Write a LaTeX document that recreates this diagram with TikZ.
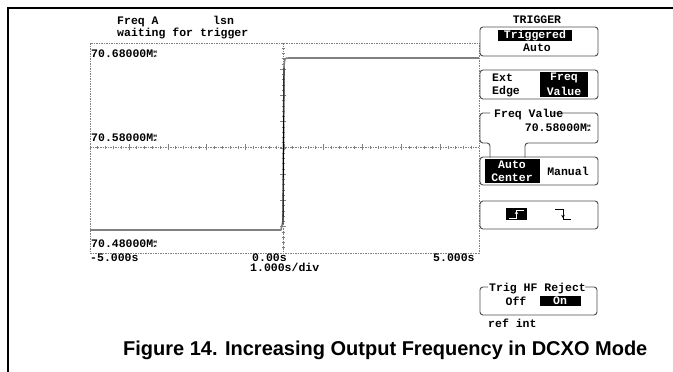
\documentclass[tikz,border=0pt]{standalone}
\usepackage{fontspec}
\setmainfont{Liberation Sans}
\newfontfamily\scrfont{Liberation Mono}
\usetikzlibrary{arrows.meta}
\definecolor{gridgray}{gray}{0.5}
\definecolor{tracegray}{gray}{0.5}
\definecolor{boxgray}{gray}{0.3}
\newcommand\mhzsym{M\raisebox{-0.1ex}{\scalebox{0.9}[0.55]{\fontsize{7}{7.5}\selectfont\shortstack{H\\z}}}}
\begin{document}
\begin{tikzpicture}[x=1pt,y=-1pt,
  scr/.style={font=\scrfont\bfseries\fontsize{11.5}{11.5}\selectfont, inner sep=0pt, anchor=base west},
  scrc/.style={font=\scrfont\bfseries\fontsize{11.5}{11.5}\selectfont, inner sep=0pt},
  inv/.style={fill=black,draw=none},
  panel/.style={draw=boxgray,line width=0.9pt,rounded corners=3pt},
  gridline/.style={draw=gridgray,line width=0.6pt,dash pattern=on 1.5pt off 1pt},
  tick/.style={draw=gridgray,line width=0.6pt}]
\useasboundingbox (0,0) rectangle (673,372);
% frame
\draw[line width=1.5pt] (673,8) -- (8,8) -- (8,372);

% header
\node[scr] (freqa) at (117,24) {Freq A};
\node[scr] (lsn) at (213,24) {lsn};
\node[scr] (wait) at (117,37) {waiting for trigger};

% plot area
\draw[gridline] (90,43) rectangle (479,253);
\draw[gridline] (283,43) -- (283,253);
\draw[gridline] (90,147) -- (479,147);
\foreach \i in {1,...,49} {\pgfmathsetmacro\xx{90+\i*7.78}
  \draw[tick] (\xx,145.5) -- (\xx,148.5);}
\foreach \i in {1,...,9} {\pgfmathsetmacro\xx{90+\i*38.9}
  \draw[tick] (\xx,144) -- (\xx,150);}
\foreach \i in {1,...,39} {\pgfmathsetmacro\yy{43+\i*5.25}
  \draw[tick] (281.5,\yy) -- (284.5,\yy);}
\foreach \i in {1,...,7} {\pgfmathsetmacro\yy{43+\i*26.25}
  \draw[tick] (280,\yy) -- (286,\yy);}

% trace
\draw[tracegray,line width=1.6pt,line join=round] (90,230) -- (281,230) -- (283,221) -- (284,68)
  .. controls (284.5,58) .. (289,58) -- (479,58);
\draw[black,line width=0.9pt] (283,224) -- (284,68);

% axis labels
\node[scr] (ytop) at (91,57) {70.68000\mhzsym};
\node[scr] (ymid) at (91,141) {70.58000\mhzsym};
\node[scr] (ybot) at (91,247) {70.48000\mhzsym};
\node[scr] (xl) at (90,261) {-5.000s};
\node[scr] (xc) at (252,261) {0.00s};
\node[scr] (xr) at (433,261) {5.000s};
\node[scr] (xdiv) at (250,271) {1.000s/div};

% right panel
\node[scrc] (trig) at (537,20) {TRIGGER};
\draw[panel] (480,27) rectangle (598,56);
\fill[inv] (498,30) rectangle (572,41);
\node[scrc,text=white] (trgd) at (535,35.5) {Triggered};
\node[scrc] (auto) at (537,48) {Auto};

\draw[panel] (480,70) rectangle (598,99);
\node[scr] (ext) at (492,81.5) {Ext};
\node[scr] (edge) at (492,94.5) {Edge};
\fill[inv] (540,72) rectangle (588,97);
\node[scrc,text=white] (fq) at (564,78) {Freq};
\node[scrc,text=white] (val) at (564,91) {Value};

\draw[panel] (552,113) -- (598,113) -- (598,143) -- (525,143) -- (525,157.5);
\draw[panel] (490,157.5) -- (490,143) -- (480,143) -- (480,113) -- (490,113);
\node[scr] (fvt) at (494,117) {Freq Value};
\node[scrc,anchor=base east] (fvv) at (591,131) {70.58000\mhzsym};

\draw[panel] (480,157) rectangle (598,185);
\fill[inv] (485,159) rectangle (540,183);
\node[scrc,text=white] (ac1) at (512,165) {Auto};
\node[scrc,text=white] (ac2) at (512,178) {Center};
\node[scrc] (man) at (568,171) {Manual};

\draw[panel] (480,201) rectangle (598,229);
\fill[inv] (506,208) rectangle (527,220);
\draw[white,line width=0.9pt] (509,218) -- (516.5,218) -- (516.5,210.5) -- (524,210.5);
\draw[white,line width=0.6pt,-{Stealth[length=3pt,width=3.5pt]}] (516.5,216) -- (516.5,211);
\draw[black,line width=0.9pt] (555,209.5) -- (563,209.5) -- (563,219.5) -- (571,219.5);
\draw[black,line width=0.6pt,-{Stealth[length=3pt,width=3.5pt]}] (563,212) -- (563,218);

\draw[panel] (585,287) -- (597,287) -- (597,315) -- (480,315) -- (480,287) -- (488,287);
\node[scr] (hft) at (489,291) {Trig HF Reject};
\node[scrc] (off) at (516,301) {Off};
\fill[inv] (540,296) rectangle (581,306);
\node[scrc,text=white] (on) at (560,301) {On};
\node[scr] (ref) at (488,327) {ref int};

% caption
\node[anchor=base west,inner sep=0pt,font=\bfseries\fontsize{20}{20}\selectfont] (cap) at (123,355)
  {Figure 14. Increasing Output Frequency in DCXO Mode};
\end{tikzpicture}
\end{document}
